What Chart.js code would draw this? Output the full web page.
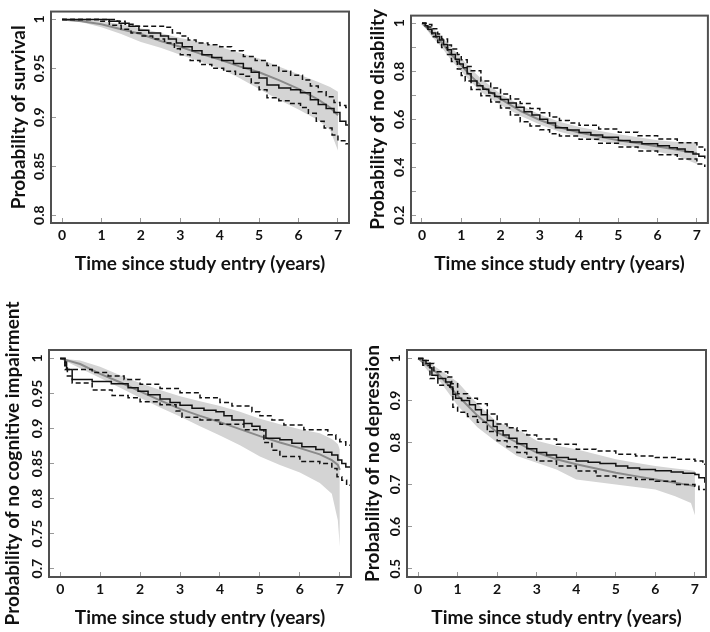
<!DOCTYPE html>
<html>
<head>
<meta charset="utf-8">
<script src="https://cdn.jsdelivr.net/npm/chart.js@4.4.1/dist/chart.umd.min.js"></script>
<style>
body { margin: 0; background: #fff; }
canvas { position: absolute; }
</style>
</head>
<body>
<canvas id="survivalChart"></canvas>
<canvas id="disabilityChart"></canvas>
<canvas id="cognitiveChart"></canvas>
<canvas id="depressionChart"></canvas>
<script>
const xTicks = [0, 1, 2, 3, 4, 5, 6, 7];
const xTickLabels = ["0", "1", "2", "3", "4", "5", "6", "7"];
const xTitle = "Time since study entry (years)";

// survival
const survivalYTicks = [0.8, 0.85, 0.9, 0.95, 1];
const survivalYLabels = ["0.8", "0.85", "0.9", "0.95", "1"];
const survivalPredTime = [0, 0.5, 1, 1.5, 2, 2.5, 3, 3.5, 4, 4.5, 5, 5.5, 6, 6.5, 6.8, 7];
const survivalPred = [1, 0.998, 0.995, 0.990, 0.985, 0.978, 0.972, 0.965, 0.959, 0.952, 0.946, 0.938, 0.929, 0.918, 0.910, 0.902];
const survivalPredUpper = [1, 0.9995, 0.998, 0.995, 0.991, 0.986, 0.981, 0.977, 0.972, 0.966, 0.960, 0.952, 0.944, 0.936, 0.931, 0.926];
const survivalPredLower = [1, 0.997, 0.992, 0.985, 0.977, 0.971, 0.964, 0.957, 0.950, 0.940, 0.929, 0.918, 0.908, 0.897, 0.887, 0.866];
const survivalKMTime = [0, 1.2, 1.45, 1.7, 1.95, 2.2, 2.5, 2.7, 2.9, 3.05, 3.3, 3.55, 3.8, 4.05, 4.35, 4.6, 4.8, 5.0, 5.2, 5.5, 5.8, 6.05, 6.3, 6.5, 6.7, 6.9, 7.05, 7.2, 7.28];
const survivalKM = [1, 0.998, 0.996, 0.993, 0.989, 0.986, 0.983, 0.980, 0.976, 0.972, 0.968, 0.964, 0.961, 0.958, 0.955, 0.950, 0.946, 0.940, 0.933, 0.930, 0.928, 0.925, 0.918, 0.913, 0.909, 0.905, 0.896, 0.892, 0.886];
const survivalUpperTime = [0, 1.4, 1.6, 1.8, 2.6, 2.8, 3.0, 3.2, 3.4, 3.7, 4.0, 4.3, 4.6, 4.9, 5.2, 5.5, 5.8, 6.1, 6.3, 6.5, 6.7, 6.9, 7.05, 7.2, 7.28];
const survivalUpper = [1, 0.998, 0.995, 0.993, 0.992, 0.986, 0.983, 0.979, 0.976, 0.974, 0.972, 0.968, 0.962, 0.958, 0.953, 0.947, 0.943, 0.938, 0.932, 0.926, 0.921, 0.915, 0.912, 0.910, 0.902];
const survivalLowerTime = [0, 0.95, 1.2, 1.5, 1.75, 2.0, 2.3, 2.6, 2.85, 3.0, 3.25, 3.5, 3.8, 4.1, 4.4, 4.6, 4.8, 5.0, 5.2, 5.5, 5.8, 6.05, 6.25, 6.45, 6.65, 6.85, 7.0, 7.2, 7.28];
const survivalLower = [1, 0.998, 0.994, 0.990, 0.986, 0.983, 0.980, 0.976, 0.970, 0.964, 0.958, 0.954, 0.950, 0.947, 0.944, 0.942, 0.935, 0.928, 0.920, 0.917, 0.914, 0.910, 0.904, 0.896, 0.889, 0.882, 0.876, 0.873, 0.866];

// disability
const disabilityYTicks = [0.2, 0.3, 0.4, 0.5, 0.6, 0.7, 0.8, 0.9, 1];
const disabilityYLabels = ["0.2", "", "0.4", "", "0.6", "", "0.8", "", "1"];
const disabilityPredTime = [0, 0.25, 0.5, 0.75, 1, 1.25, 1.5, 2, 2.5, 3, 3.5, 4, 4.5, 5, 5.5, 6, 6.5, 7];
const disabilityPred = [1, 0.96, 0.92, 0.87, 0.825, 0.78, 0.74, 0.685, 0.635, 0.597, 0.567, 0.545, 0.528, 0.513, 0.5, 0.487, 0.473, 0.459];
const disabilityPredUpper = [1, 0.985, 0.945, 0.9, 0.855, 0.81, 0.77, 0.705, 0.66, 0.62, 0.59, 0.568, 0.552, 0.538, 0.525, 0.513, 0.505, 0.504];
const disabilityPredLower = [1, 0.945, 0.9, 0.845, 0.8, 0.755, 0.715, 0.66, 0.615, 0.578, 0.548, 0.527, 0.51, 0.495, 0.48, 0.465, 0.447, 0.414];
const disabilityKMTime = [0, 0.08, 0.15, 0.25, 0.35, 0.45, 0.55, 0.65, 0.75, 0.85, 0.95, 1.05, 1.15, 1.25, 1.4, 1.55, 1.7, 1.85, 2.0, 2.2, 2.4, 2.6, 2.8, 3.0, 3.2, 3.4, 3.7, 4.0, 4.3, 4.6, 5.0, 5.3, 5.6, 6.0, 6.3, 6.5, 6.7, 6.9, 7.05, 7.2];
const disabilityKM = [1, 0.99, 0.975, 0.96, 0.945, 0.93, 0.912, 0.89, 0.87, 0.85, 0.83, 0.815, 0.79, 0.76, 0.74, 0.725, 0.71, 0.695, 0.683, 0.668, 0.65, 0.632, 0.618, 0.6, 0.585, 0.565, 0.555, 0.545, 0.535, 0.525, 0.512, 0.505, 0.498, 0.49, 0.482, 0.476, 0.465, 0.455, 0.446, 0.437];
const disabilityUpperTime = [0, 0.1, 0.25, 0.4, 0.5, 0.65, 0.75, 0.9, 1.0, 1.15, 1.25, 1.5, 1.75, 2.0, 2.25, 2.5, 2.75, 3.0, 3.25, 3.5, 3.75, 4.0, 4.5, 5.0, 5.5, 6.0, 6.5, 7.0, 7.2];
const disabilityUpper = [1, 0.995, 0.977, 0.955, 0.935, 0.91, 0.893, 0.87, 0.848, 0.82, 0.802, 0.76, 0.73, 0.705, 0.685, 0.666, 0.645, 0.627, 0.61, 0.595, 0.585, 0.575, 0.56, 0.546, 0.532, 0.518, 0.502, 0.485, 0.468];
const disabilityLowerTime = [0, 0.1, 0.25, 0.4, 0.5, 0.65, 0.75, 0.9, 1.0, 1.1, 1.25, 1.5, 1.75, 2.0, 2.25, 2.5, 2.75, 3.0, 3.25, 3.5, 4.0, 4.5, 5.0, 5.5, 6.0, 6.5, 7.0, 7.2];
const disabilityLower = [1, 0.985, 0.944, 0.92, 0.899, 0.87, 0.841, 0.81, 0.783, 0.76, 0.724, 0.698, 0.672, 0.647, 0.618, 0.59, 0.572, 0.556, 0.54, 0.53, 0.517, 0.5, 0.485, 0.468, 0.452, 0.435, 0.414, 0.401];

// cognitive impairment
const cognitiveYTicks = [0.7, 0.75, 0.8, 0.85, 0.9, 0.95, 1];
const cognitiveYLabels = ["0.7", "0.75", "0.8", "0.85", "0.9", "0.95", "1"];
const cognitivePredTime = [0, 0.5, 1, 1.5, 2, 2.5, 3, 3.5, 4, 4.5, 5, 5.5, 6, 6.5, 6.8, 6.95, 7];
const cognitivePred = [1, 0.992, 0.978, 0.966, 0.953, 0.94, 0.928, 0.918, 0.909, 0.899, 0.889, 0.88, 0.872, 0.863, 0.855, 0.848, 0.841];
const cognitivePredUpper = [1, 0.997, 0.988, 0.976, 0.965, 0.955, 0.946, 0.939, 0.932, 0.924, 0.914, 0.906, 0.899, 0.893, 0.885, 0.878, 0.87];
const cognitivePredLower = [1, 0.986, 0.972, 0.958, 0.944, 0.93, 0.917, 0.903, 0.89, 0.876, 0.86, 0.848, 0.837, 0.822, 0.807, 0.769, 0.731];
const cognitiveKMTime = [0, 0.12, 0.16, 0.3, 0.8, 1.28, 1.7, 1.95, 2.2, 2.5, 2.75, 3.0, 3.3, 3.6, 3.9, 4.1, 4.3, 4.6, 4.8, 5.0, 5.15, 5.5, 5.8, 6.05, 6.4, 6.6, 6.8, 6.95, 7.05, 7.15, 7.28];
const cognitiveKM = [1, 0.995, 0.984, 0.97, 0.967, 0.964, 0.958, 0.953, 0.948, 0.942, 0.937, 0.933, 0.929, 0.926, 0.924, 0.918, 0.912, 0.907, 0.903, 0.898, 0.886, 0.884, 0.879, 0.874, 0.870, 0.866, 0.862, 0.855, 0.850, 0.845, 0.845];
const cognitiveUpperTime = [0, 0.12, 0.8, 1.2, 1.6, 2.0, 2.5, 3.0, 3.5, 4.0, 4.3, 4.8, 5.0, 5.3, 5.6, 6.1, 6.7, 6.9, 7.0, 7.15, 7.28];
const cognitiveUpper = [1, 0.984, 0.98, 0.975, 0.97, 0.963, 0.957, 0.951, 0.944, 0.937, 0.932, 0.924, 0.918, 0.912, 0.905, 0.898, 0.891, 0.885, 0.881, 0.876, 0.872];
const cognitiveLowerTime = [0, 0.12, 0.18, 0.3, 0.8, 1.3, 1.7, 2.0, 2.5, 2.9, 3.05, 3.5, 4.0, 4.6, 5.1, 5.3, 5.5, 6.0, 6.5, 6.8, 6.93, 7.05, 7.17, 7.28];
const cognitiveLower = [1, 0.99, 0.975, 0.965, 0.955, 0.947, 0.944, 0.938, 0.934, 0.925, 0.916, 0.912, 0.906, 0.898, 0.88, 0.869, 0.86, 0.853, 0.85, 0.843, 0.831, 0.826, 0.819, 0.817];

// depression
const depressionYTicks = [0.5, 0.6, 0.7, 0.8, 0.9, 1];
const depressionYLabels = ["0.5", "0.6", "0.7", "0.8", "0.9", "1"];
const depressionPredTime = [0, 0.25, 0.5, 0.75, 1, 1.25, 1.5, 2, 2.5, 3, 3.5, 4, 4.5, 5, 5.5, 6, 6.5, 6.9, 7];
const depressionPred = [1, 0.982, 0.964, 0.938, 0.912, 0.888, 0.864, 0.824, 0.8, 0.776, 0.76, 0.748, 0.738, 0.728, 0.72, 0.712, 0.704, 0.698, 0.696];
const depressionPredUpper = [1, 0.992, 0.976, 0.96, 0.944, 0.918, 0.892, 0.848, 0.832, 0.804, 0.792, 0.784, 0.772, 0.76, 0.752, 0.744, 0.738, 0.734, 0.732];
const depressionPredLower = [1, 0.97, 0.952, 0.92, 0.888, 0.862, 0.836, 0.8, 0.768, 0.752, 0.736, 0.712, 0.706, 0.7, 0.694, 0.688, 0.672, 0.656, 0.627];
const depressionKMTime = [0, 0.12, 0.2, 0.3, 0.35, 0.5, 0.7, 0.82, 0.88, 0.95, 1.1, 1.3, 1.45, 1.6, 1.75, 1.9, 2.0, 2.15, 2.3, 2.5, 2.75, 3.0, 3.25, 3.5, 3.8, 4.0, 4.3, 4.6, 5.0, 5.3, 5.6, 6.0, 6.4, 6.7, 7.0, 7.1, 7.25];
const depressionKM = [1, 0.995, 0.988, 0.978, 0.96, 0.952, 0.944, 0.932, 0.915, 0.905, 0.9, 0.89, 0.878, 0.866, 0.852, 0.838, 0.828, 0.818, 0.81, 0.797, 0.785, 0.776, 0.77, 0.764, 0.76, 0.756, 0.753, 0.75, 0.744, 0.739, 0.736, 0.733, 0.73, 0.727, 0.724, 0.716, 0.704];
const depressionUpperTime = [0, 0.15, 0.3, 0.4, 0.75, 0.85, 1.0, 1.25, 1.5, 1.75, 2.0, 2.25, 2.5, 2.75, 3.0, 3.5, 4.0, 4.5, 5.0, 5.5, 6.0, 6.5, 7.0, 7.2, 7.28];
const depressionUpper = [1, 0.995, 0.988, 0.968, 0.956, 0.94, 0.916, 0.905, 0.892, 0.868, 0.844, 0.835, 0.828, 0.818, 0.808, 0.796, 0.784, 0.78, 0.772, 0.768, 0.764, 0.76, 0.756, 0.748, 0.74];
const depressionLowerTime = [0, 0.12, 0.3, 0.5, 0.8, 0.88, 1.0, 1.25, 1.5, 1.75, 2.0, 2.25, 2.5, 2.75, 3.0, 3.5, 4.0, 4.5, 5.0, 5.5, 6.0, 6.5, 7.0, 7.1, 7.28];
const depressionLower = [1, 0.984, 0.952, 0.936, 0.928, 0.884, 0.872, 0.862, 0.848, 0.826, 0.804, 0.79, 0.776, 0.765, 0.756, 0.744, 0.732, 0.72, 0.716, 0.712, 0.708, 0.7, 0.696, 0.688, 0.671];

const TICK_FONT = { family: "Lato", weight: "bold", size: 14 };
const TITLE_FONT = { family: "Lato", weight: "bold", size: 19 };

function pts(xs, ys) {
    return xs.map((x, i) => ({ x: x, y: ys[i] }));
}

function widest(labels) {
    const ctx = document.createElement("canvas").getContext("2d");
    ctx.font = "bold " + TICK_FONT.size + "px " + TICK_FONT.family;
    return Math.max(...labels.map(s => ctx.measureText(s).width));
}

// box around the plot region, like R's bty="o"
const plotBox = {
    id: "plotBox",
    afterDraw(chart) {
        const a = chart.chartArea;
        const ctx = chart.ctx;
        ctx.save();
        ctx.strokeStyle = "#505050";
        ctx.lineWidth = 2;
        ctx.strokeRect(a.left, a.top, a.right - a.left, a.bottom - a.top);
        ctx.restore();
    }
};

function makePanel(p) {
    const canvas = document.getElementById(p.id);
    canvas.width = p.w;
    canvas.height = p.h;
    canvas.style.left = p.left + "px";
    canvas.style.top = p.top + "px";

    const lh = TITLE_FONT.size * 1.2;
    const yPad = 17 - widest(p.yLabels) / 2;

    new Chart(canvas, {
        type: "line",
        data: {
            datasets: [
                { data: pts(p.predTime, p.predUpper), borderWidth: 0, pointRadius: 0, fill: "+1", backgroundColor: "#d4d4d4", order: 5 },
                { data: pts(p.predTime, p.predLower), borderWidth: 0, pointRadius: 0, fill: false, order: 5 },
                { data: pts(p.predTime, p.pred), borderColor: "#8a8a8a", borderWidth: 2, pointRadius: 0, fill: false, order: 3 },
                { data: pts(p.upperTime, p.upper), borderColor: "#111", borderWidth: 1.5, borderDash: [5, 3], stepped: true, pointRadius: 0, fill: false, order: 2 },
                { data: pts(p.lowerTime, p.lower), borderColor: "#111", borderWidth: 1.5, borderDash: [5, 3], stepped: true, pointRadius: 0, fill: false, order: 2 },
                { data: pts(p.kmTime, p.km), borderColor: "#111", borderWidth: 1.5, stepped: true, pointRadius: 0, fill: false, order: 1 }
            ]
        },
        options: {
            responsive: false,
            animation: false,
            devicePixelRatio: 1,
            layout: {
                autoPadding: false,
                padding: { left: 0, top: p.area.top, right: p.w - p.area.right, bottom: 0 }
            },
            plugins: { legend: { display: false }, tooltip: { enabled: false } },
            scales: {
                x: {
                    type: "linear",
                    min: -0.28,
                    max: 7.28,
                    afterBuildTicks: ax => { ax.ticks = xTicks.map(v => ({ value: v })); },
                    afterFit: ax => { ax.height = p.h - p.area.bottom; },
                    grid: { drawOnChartArea: false, drawTicks: true, tickLength: -5, color: "#999", lineWidth: 1 },
                    border: { display: false },
                    ticks: { autoSkip: false, maxRotation: 0, padding: 9, color: "#111", font: TICK_FONT, callback: (v, i) => xTickLabels[i] },
                    title: { display: true, text: xTitle, color: "#111", font: TITLE_FONT, padding: { top: 0, bottom: p.h - p.xTitleY - lh / 2 } }
                },
                y: {
                    type: "linear",
                    min: p.yMin,
                    max: p.yMax,
                    afterBuildTicks: ax => { ax.ticks = p.yTicks.map(v => ({ value: v })); },
                    afterFit: ax => { ax.width = p.area.left; },
                    grid: { drawOnChartArea: false, drawTicks: true, tickLength: -5, color: "#999", lineWidth: 1 },
                    border: { display: false },
                    ticks: { autoSkip: false, minRotation: 90, maxRotation: 90, crossAlign: "center", padding: yPad, color: "#111", font: TICK_FONT, callback: (v, i) => p.yLabels[i] },
                    title: { display: true, text: p.yTitle, color: "#111", font: TITLE_FONT, padding: { top: p.yTitleX - lh / 2, bottom: 0 } }
                }
            }
        },
        plugins: [plotBox]
    });
}

const panels = [
    {
        id: "survivalChart", left: 0, top: 0, w: 355, h: 285,
        area: { left: 51, right: 349, top: 1, bottom: 223 }, yTitleX: 19, xTitleY: 264,
        yMin: 0.792, yMax: 1.008, yTicks: survivalYTicks, yLabels: survivalYLabels, yTitle: "Probability of survival",
        predTime: survivalPredTime, pred: survivalPred, predUpper: survivalPredUpper, predLower: survivalPredLower,
        kmTime: survivalKMTime, km: survivalKM, upperTime: survivalUpperTime, upper: survivalUpper, lowerTime: survivalLowerTime, lower: survivalLower
    },
    {
        id: "disabilityChart", left: 355, top: 0, w: 355, h: 285,
        area: { left: 56, right: 354, top: 1, bottom: 223 }, yTitleX: 22.5, xTitleY: 264,
        yMin: 0.168, yMax: 1.032, yTicks: disabilityYTicks, yLabels: disabilityYLabels, yTitle: "Probability of no disability",
        predTime: disabilityPredTime, pred: disabilityPred, predUpper: disabilityPredUpper, predLower: disabilityPredLower,
        kmTime: disabilityKMTime, km: disabilityKM, upperTime: disabilityUpperTime, upper: disabilityUpper, lowerTime: disabilityLowerTime, lower: disabilityLower
    },
    {
        id: "cognitiveChart", left: 0, top: 285, w: 355, h: 347,
        area: { left: 49, right: 351, top: 65, bottom: 292 }, yTitleX: 13, xTitleY: 333,
        yMin: 0.688, yMax: 1.012, yTicks: cognitiveYTicks, yLabels: cognitiveYLabels, yTitle: "Probability of no cognitive impairment",
        predTime: cognitivePredTime, pred: cognitivePred, predUpper: cognitivePredUpper, predLower: cognitivePredLower,
        kmTime: cognitiveKMTime, km: cognitiveKM, upperTime: cognitiveUpperTime, upper: cognitiveUpper, lowerTime: cognitiveLowerTime, lower: cognitiveLower
    },
    {
        id: "depressionChart", left: 355, top: 285, w: 355, h: 347,
        area: { left: 52, right: 351, top: 65, bottom: 292 }, yTitleX: 17.5, xTitleY: 333,
        yMin: 0.48, yMax: 1.02, yTicks: depressionYTicks, yLabels: depressionYLabels, yTitle: "Probability of no depression",
        predTime: depressionPredTime, pred: depressionPred, predUpper: depressionPredUpper, predLower: depressionPredLower,
        kmTime: depressionKMTime, km: depressionKM, upperTime: depressionUpperTime, upper: depressionUpper, lowerTime: depressionLowerTime, lower: depressionLower
    }
];

panels.forEach(makePanel);
</script>
</body>
</html>
